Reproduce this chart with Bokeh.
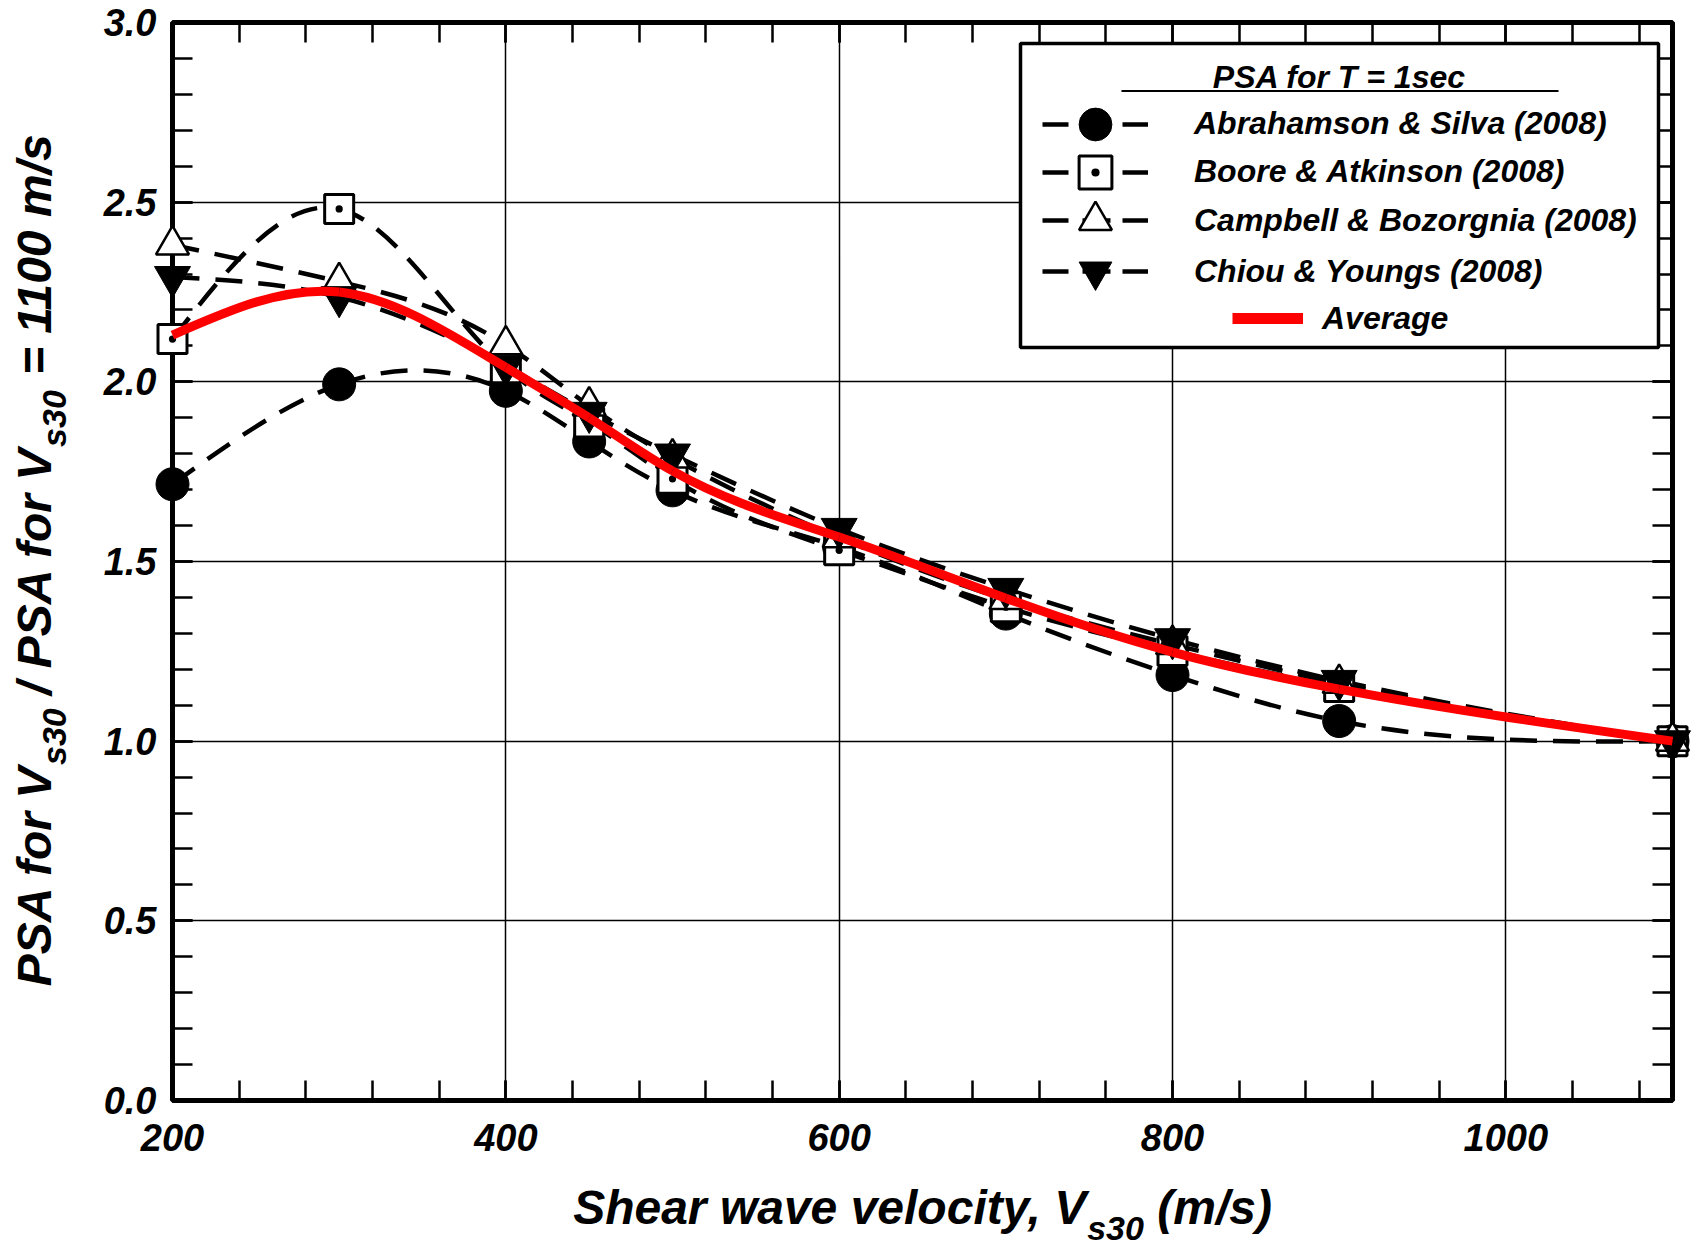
import numpy as np
from bokeh.plotting import figure
from bokeh.models import (Range1d, LinearAxis, SingleIntervalTicker, FixedTicker, PrintfTickFormatter,
                          CustomJSTickFormatter, Legend, LegendItem, Label, BoxAnnotation, Arrow,
                          ColumnDataSource)
from bokeh.embed import file_html
from bokeh.resources import INLINE

# ---------------- data ----------------
vs30 = [200, 300, 400, 450, 500, 600, 700, 800, 900, 1100]
abrahamson_silva = [1.715, 1.993, 1.975, 1.834, 1.698, 1.540, 1.355, 1.184, 1.056, 1.000]
boore_atkinson = [2.119, 2.481, 2.038, 1.887, 1.730, 1.531, 1.373, 1.251, 1.151, 1.000]
campbell_bozorgnia = [2.381, 2.279, 2.103, 1.933, 1.788, 1.566, 1.394, 1.269, 1.161, 1.000]
chiou_youngs = [2.292, 2.236, 2.044, 1.914, 1.798, 1.591, 1.424, 1.284, 1.168, 1.000]
average = [2.130, 2.250, 2.040, 1.900, 1.752, 1.568, 1.398, 1.248, 1.145, 1.000]

series_names = ["Abrahamson & Silva (2008)", "Boore & Atkinson (2008)",
                "Campbell & Bozorgnia (2008)", "Chiou & Youngs (2008)"]
average_name = "Average"
legend_title = "PSA for T = 1sec"
x_title = ["Shear wave velocity, V", "s30", " (m/s)"]
y_title = ["PSA for V", "s30", " / PSA for V", "s30", " = 1100 m/s"]

# ---------------- layout ----------------
FW, FH = 1500, 1078
BL, BR, BT, BB = 172, 30, 22, 140
XMIN, XMAX, YMIN, YMAX = 200, 1100, 0.0, 3.0
FB = BT + FH  # frame bottom (px from top)
FONT = "Liberation Sans"
MAIN, SUB = 48, 34


def px2x(fx):
    return XMIN + (fx - BL) * (XMAX - XMIN) / FW


def px2y(fy):
    return YMIN + (FB - fy) * (YMAX - YMIN) / FH


# Arial/Liberation Sans Bold advance widths (per 1000 em)
W = {' ': 278, '(': 333, ')': 333, ',': 278, '/': 278, '.': 278, '=': 584, '&': 722,
     '0': 556, '1': 556, '2': 556, '3': 556, '8': 556, 'A': 722, 'P': 667, 'S': 667,
     'T': 611, 'V': 667, 'a': 556, 'c': 556, 'e': 556, 'f': 333, 'h': 611, 'i': 278,
     'l': 278, 'm': 889, 'o': 611, 'r': 389, 's': 556, 't': 333, 'v': 556, 'w': 778,
     'y': 556}


def tw(s, size):
    return sum(W.get(c, 556) for c in s) / 1000.0 * size


def natural_spline_beziers(xs, ys):
    xs = np.asarray(xs, float)
    ys = np.asarray(ys, float)
    n = len(xs)
    h = np.diff(xs)
    A = np.zeros((n, n))
    r = np.zeros(n)
    A[0, 0] = 1.0
    A[-1, -1] = 1.0
    for i in range(1, n - 1):
        A[i, i - 1] = h[i - 1]
        A[i, i] = 2 * (h[i - 1] + h[i])
        A[i, i + 1] = h[i]
        r[i] = 6 * ((ys[i + 1] - ys[i]) / h[i] - (ys[i] - ys[i - 1]) / h[i - 1])
    M = np.linalg.solve(A, r)
    sl = (ys[1:] - ys[:-1]) / h
    d0 = sl - h * (2 * M[:-1] + M[1:]) / 6
    d1 = sl + h * (M[:-1] + 2 * M[1:]) / 6
    return dict(x0=xs[:-1], y0=ys[:-1], x1=xs[1:], y1=ys[1:],
                cx0=xs[:-1] + h / 3, cy0=ys[:-1] + d0 * h / 3,
                cx1=xs[1:] - h / 3, cy1=ys[1:] - d1 * h / 3)


def piece_centers(parts, sizes, start, direction):
    """Return (texts, centers in px) for a chain of text pieces."""
    texts, centers = [], []
    pos = start
    for s, z in zip(parts, sizes):
        lead = tw(s[:len(s) - len(s.lstrip(' '))], z)
        body = s.strip()
        wdt = tw(body, z)
        c = pos + direction * (lead + wdt / 2)
        texts.append(body)
        centers.append(c)
        pos += direction * tw(s, z)
    return texts, centers


def label_formatter(ticks, texts):
    return CustomJSTickFormatter(args=dict(t=list(ticks), s=list(texts)), code="""
        let best = 0, bd = Infinity;
        for (let i = 0; i < t.length; i++) {
            const d = Math.abs(t[i] - tick);
            if (d < bd) { bd = d; best = i; }
        }
        return s[best];
    """)


def bare_axis(ax):
    ax.axis_line_color = None
    ax.major_tick_line_color = None
    ax.minor_tick_line_color = None
    ax.major_tick_in = 0
    ax.major_tick_out = 0
    ax.minor_tick_in = 0
    ax.minor_tick_out = 0
    ax.major_label_text_font = FONT
    ax.major_label_text_font_style = "bold italic"
    ax.major_label_text_color = "black"


p = figure(frame_width=FW, frame_height=FH,
           x_range=Range1d(XMIN, XMAX), y_range=Range1d(YMIN, YMAX),
           output_backend="svg", toolbar_location=None,
           min_border_left=BL, min_border_right=BR, min_border_top=BT, min_border_bottom=BB,
           background_fill_color="white", border_fill_color="white")
p.outline_line_color = "black"
p.outline_line_width = 5

xt = SingleIntervalTicker(interval=200, num_minor_ticks=5)
yt = SingleIntervalTicker(interval=0.5, num_minor_ticks=5)

xb = p.xaxis[0]
yl = p.yaxis[0]
xb.ticker = xt
yl.ticker = yt
yl.formatter = PrintfTickFormatter(format="%.1f")
xa = LinearAxis(ticker=xt)
yr = LinearAxis(ticker=yt)
p.add_layout(xa, "above")
p.add_layout(yr, "right")

for ax in (xb, yl, xa, yr):
    ax.axis_line_color = None
    ax.major_tick_in = 20
    ax.major_tick_out = 0
    ax.minor_tick_in = 20
    ax.minor_tick_out = 0
    ax.major_tick_line_color = "black"
    ax.minor_tick_line_color = "black"
    ax.major_tick_line_width = 2.5
    ax.minor_tick_line_width = 2.5
    ax.major_label_text_font = FONT
    ax.major_label_text_font_style = "bold italic"
    ax.major_label_text_color = "black"

xb.major_label_text_font_size = "38px"
xb.major_label_standoff = 23
yl.major_label_text_font_size = "38px"
yl.major_label_standoff = 16
for ax in (xa, yr):
    ax.major_label_text_color = None
    ax.major_label_text_font_size = "1px"
    ax.major_label_standoff = 0

for g in (p.xgrid[0], p.ygrid[0]):
    g.grid_line_color = "black"
    g.grid_line_width = 1.5
    g.grid_line_alpha = 1.0

# ---------------- axis titles (as tick labels of bare axes) ----------------
xsz = [MAIN, SUB, MAIN]
xt_texts, xt_cent = piece_centers(x_title, xsz,
                                  921.6 - sum(tw(s, z) for s, z in zip(x_title, xsz)) / 2, +1)
x_main_t = [px2x(xt_cent[0]), px2x(xt_cent[2])]
x_main_s = [xt_texts[0], xt_texts[2]]
x_sub_t = [px2x(xt_cent[1])]
x_sub_s = [xt_texts[1]]

ax_xmain = LinearAxis(ticker=FixedTicker(ticks=x_main_t, minor_ticks=[]),
                      formatter=label_formatter(x_main_t, x_main_s))
bare_axis(ax_xmain)
ax_xmain.major_label_text_font_size = f"{MAIN}px"
ax_xmain.major_label_standoff = 27
ax_xsub = LinearAxis(ticker=FixedTicker(ticks=x_sub_t, minor_ticks=[]),
                     formatter=label_formatter(x_sub_t, x_sub_s))
bare_axis(ax_xsub)
ax_xsub.major_label_text_font_size = f"{SUB}px"
ax_xsub.major_label_standoff = -28
p.add_layout(ax_xmain, "below")
p.add_layout(ax_xsub, "below")

# y title (reads bottom to top)
ysz = [MAIN, SUB, MAIN, SUB, MAIN]
yt_texts, yt_cent = piece_centers(y_title, ysz,
                                  559 + sum(tw(s, z) for s, z in zip(y_title, ysz)) / 2, -1)
y_main_t = [px2y(yt_cent[i]) for i in (0, 2, 4)]
y_main_s = [yt_texts[i] for i in (0, 2, 4)]
y_sub_t = [px2y(yt_cent[i]) for i in (1, 3)]
y_sub_s = [yt_texts[i] for i in (1, 3)]

ax_ysub = LinearAxis(ticker=FixedTicker(ticks=y_sub_t, minor_ticks=[]),
                     formatter=label_formatter(y_sub_t, y_sub_s))
bare_axis(ax_ysub)
ax_ysub.major_label_text_font_size = f"{SUB}px"
ax_ysub.major_label_orientation = "parallel"
ax_ysub.major_label_standoff = 27
ax_ymain = LinearAxis(ticker=FixedTicker(ticks=y_main_t, minor_ticks=[]),
                      formatter=label_formatter(y_main_t, y_main_s))
bare_axis(ax_ymain)
ax_ymain.major_label_text_font_size = f"{MAIN}px"
ax_ymain.major_label_orientation = "parallel"
ax_ymain.major_label_standoff = -29
p.add_layout(ax_ysub, "left")
p.add_layout(ax_ymain, "left")

# ---------------- data ----------------
DASH = "27 16"
LEG_DASH = "26 14 28 12 26 20"
all_series = [abrahamson_silva, boore_atkinson, campbell_bozorgnia, chiou_youngs]
marker_styles = [
    dict(marker="circle", size=33, fill_color="black", line_color="black", line_width=1),
    dict(marker="square_dot", size=29, fill_color="white", line_color="black", line_width=3),
    dict(marker="triangle", size=33, fill_color="white", line_color="black", line_width=2.5),
    dict(marker="inverted_triangle", size=36, fill_color="black", line_color="black", line_width=1),
]

for ys in all_series:
    src = ColumnDataSource(natural_spline_beziers(vs30, ys))
    p.bezier(x0="x0", y0="y0", x1="x1", y1="y1", cx0="cx0", cy0="cy0", cx1="cx1", cy1="cy1",
             source=src, line_color="black", line_width=4.5, line_dash=DASH)

legend_rows = []
for name, ys, ms in zip(series_names, all_series, marker_styles):
    # markers in the overlay level, so that the ones on the frame edge are not cut
    sc = p.scatter(vs30, ys, level="overlay", **ms)
    # one-point line: draws nothing in the plot, gives the dashed legend symbol
    ln = p.line(vs30[:1], ys[:1], line_color="black", line_width=4.5, line_dash=LEG_DASH)
    legend_rows.append(LegendItem(label=name, renderers=[ln, sc]))

avg_src = ColumnDataSource(natural_spline_beziers(vs30, average))
p.bezier(x0="x0", y0="y0", x1="x1", y1="y1", cx0="cx0", cy0="cy0", cx1="cx1", cy1="cy1",
         source=avg_src, line_color="#ff0000", line_width=9, line_cap="butt", level="overlay")
avg_ln = p.line(vs30[:1], average[:1], line_color="#ff0000", line_width=11)

# ---------------- legend ----------------
box = BoxAnnotation(left=px2x(1020), right=px2x(1658), top=px2y(43), bottom=px2y(347),
                    fill_color="white", fill_alpha=1.0, line_color="black", line_width=3.5,
                    line_alpha=1.0, line_dash="solid")
p.add_layout(box)

common_leg = dict(padding=0, margin=0, spacing=0, border_line_color=None, background_fill_alpha=0,
                  label_text_font=FONT, label_text_font_size="32px",
                  label_text_font_style="bold italic", label_text_color="black")
GH = 82
row_centers = [123.7, 171.5, 220.4, 271.4]
for item, c in zip(legend_rows, row_centers):
    lg = Legend(items=[item], location=(1042 - BL, FB - (c + GH / 2)),
                glyph_width=106, glyph_height=GH, label_height=GH, label_standoff=46, **common_leg)
    p.add_layout(lg)
lg_avg = Legend(items=[LegendItem(label=average_name, renderers=[avg_ln])],
                location=(1232 - BL, FB - (318 + 20)), glyph_width=71, glyph_height=40,
                label_height=40, label_standoff=19, **common_leg)
p.add_layout(lg_avg)

p.add_layout(Label(x=px2x(1339), y=px2y(76), text=legend_title, text_align="center",
                   text_baseline="alphabetic", text_font=FONT, text_font_size="32px",
                   text_font_style="bold italic", text_color="black"))
p.add_layout(Arrow(x_start=px2x(1121), y_start=px2y(90.5), x_end=px2x(1558), y_end=px2y(90.5),
                   end=None, line_color="black", line_width=2))

open("out.html", "w").write(file_html(p, INLINE))
